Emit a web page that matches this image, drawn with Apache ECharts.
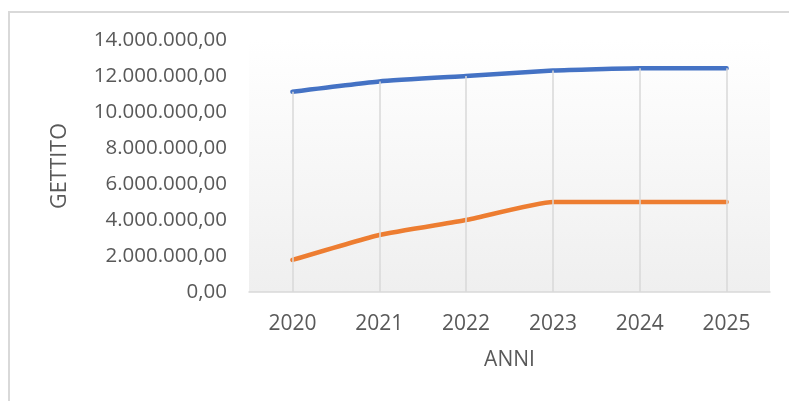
<!DOCTYPE html>
<html>
<head>
<meta charset="utf-8">
<script src="https://cdn.jsdelivr.net/npm/echarts@6/dist/echarts.min.js"></script>
<style>
html,body{margin:0;padding:0;background:#fff;}
#c{width:789px;height:401px;}
</style>
</head>
<body>
<div id="c"></div>
<script>
const categories = ['2020', '2021', '2022', '2023', '2024', '2025'];
const serieBlu = [11130000, 11700000, 12000000, 12300000, 12430000, 12430000];
const serieArancio = [1780000, 3170000, 4000000, 5000000, 5000000, 5000000];
const yTicks = { min: 0, max: 14000000, interval: 2000000 };

function fmt(v) {
  const s = Math.round(v).toString().replace(/\B(?=(\d{3})+(?!\d))/g, '.');
  return s + ',00';
}

const FONT = '"Open Sans", "Liberation Sans", sans-serif';
const GRAY = '#595959';

const dropLines = categories.map((c, i) => [
  { coord: [c, serieBlu[i]] },
  { coord: [c, 0] }
]);

const chart = echarts.init(document.getElementById('c'), null, { renderer: 'canvas' });
chart.setOption({
  animation: false,
  backgroundColor: '#ffffff',
  graphic: [{
    type: 'rect',
    shape: { x: 9, y: 12, width: 900, height: 500 },
    style: { fill: 'none', stroke: '#d9d9d9', lineWidth: 2 },
    z: 0, silent: true
  }],
  grid: {
    left: 249, right: 19, top: 40, bottom: 109,
    show: true,
    borderWidth: 0,
    backgroundColor: new echarts.graphic.LinearGradient(0, 0, 0, 1, [
      { offset: 0, color: '#ffffff' },
      { offset: 1, color: '#efefef' }
    ])
  },
  xAxis: {
    type: 'category',
    data: categories,
    boundaryGap: true,
    name: 'ANNI',
    nameLocation: 'middle',
    nameGap: 58,
    nameTextStyle: { color: GRAY, fontFamily: FONT, fontSize: 21 },
    axisLine: { show: true, lineStyle: { color: '#d9d9d9', width: 1.5 } },
    axisTick: { show: false },
    axisLabel: { color: GRAY, fontFamily: FONT, fontSize: 21, margin: 22 },
    splitLine: { show: false }
  },
  yAxis: {
    type: 'value',
    min: yTicks.min, max: yTicks.max, interval: yTicks.interval,
    name: 'GETTITO',
    nameLocation: 'middle',
    nameGap: 178,
    nameRotate: 90,
    nameTextStyle: { color: GRAY, fontFamily: FONT, fontSize: 21.5 },
    axisLine: { show: false },
    axisTick: { show: false },
    splitLine: { show: false },
    axisLabel: { color: GRAY, fontFamily: FONT, fontSize: 20.5, margin: 22, formatter: fmt }
  },
  series: [
    {
      name: 'drop',
      type: 'line',
      data: [],
      z: 1,
      silent: true,
      markLine: {
        symbol: 'none',
        silent: true,
        label: { show: false },
        lineStyle: { color: '#d9d9d9', width: 1.5, type: 'solid' },
        data: dropLines
      }
    },
    {
      name: 'A',
      type: 'line',
      data: serieBlu,
      smooth: 0.15,
      showSymbol: false,
      z: 3,
      lineStyle: { color: '#4472C4', width: 4.5, cap: 'round', join: 'round' },
      itemStyle: { color: '#4472C4' }
    },
    {
      name: 'B',
      type: 'line',
      data: serieArancio,
      smooth: 0.15,
      showSymbol: false,
      z: 3,
      lineStyle: { color: '#ED7D31', width: 4.5, cap: 'round', join: 'round' },
      itemStyle: { color: '#ED7D31' }
    }
  ]
});
</script>
</body>
</html>
